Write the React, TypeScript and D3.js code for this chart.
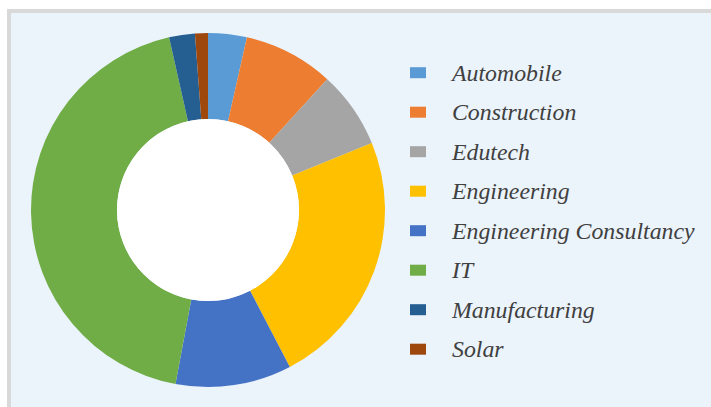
import React from "react";
import * as d3 from "d3";

const categories = [
  "Automobile",
  "Construction",
  "Edutech",
  "Engineering",
  "Engineering Consultancy",
  "IT",
  "Manufacturing",
  "Solar",
];
const values = [3, 7, 6, 20, 9, 37, 2, 1];
const colors = ["#5B9BD5", "#ED7D31", "#A5A5A5", "#FFC000", "#4472C4", "#70AD47", "#255E91", "#9E480E"];

export default function App() {
  const W = 711;
  const H = 407;
  const cx = 208;
  const cy = 210;
  const R = 177;
  const r = 91;
  const data = categories.map((c, i) => ({ c, v: values[i], color: colors[i] }));
  const pie = d3.pie<any>().value((d) => d.v).sort(null);
  const arcs = pie(data);
  const arc = d3.arc<any>().innerRadius(r).outerRadius(R);
  const legendY = d3.scaleLinear().domain([0, categories.length - 1]).range([72.7, 349.2]);
  return (
    <svg width={W} height={H} style={{ position: "absolute", left: 0, top: 0 }}>
      <rect x={0} y={0} width={W} height={H} fill="#ffffff" />
      <rect x={7} y={9} width={W} height={H} fill="#D9D9D9" />
      <rect x={11} y={13} width={W} height={H} fill="#EBF3FB" />
      <g transform={`translate(${cx},${cy})`}>
        {arcs.map((a, i) => (
          <path key={i} d={arc(a) as string} fill={a.data.color} />
        ))}
        <circle r={r} fill="#ffffff" />
      </g>
      <g>
        {data.map((d, i) => (
          <g key={d.c} transform={`translate(0,${legendY(i)})`}>
            <rect x={410} y={-5.5} width={16} height={11} fill={d.color} />
            <text
              x={452}
              y={8}
              style={{
                fontFamily: "Liberation Serif, Times New Roman, DejaVu Serif, serif",
                fontStyle: "italic",
                fontSize: "23.8px",
              }}
              fill="#404040"
            >
              {d.c}
            </text>
          </g>
        ))}
      </g>
    </svg>
  );
}
